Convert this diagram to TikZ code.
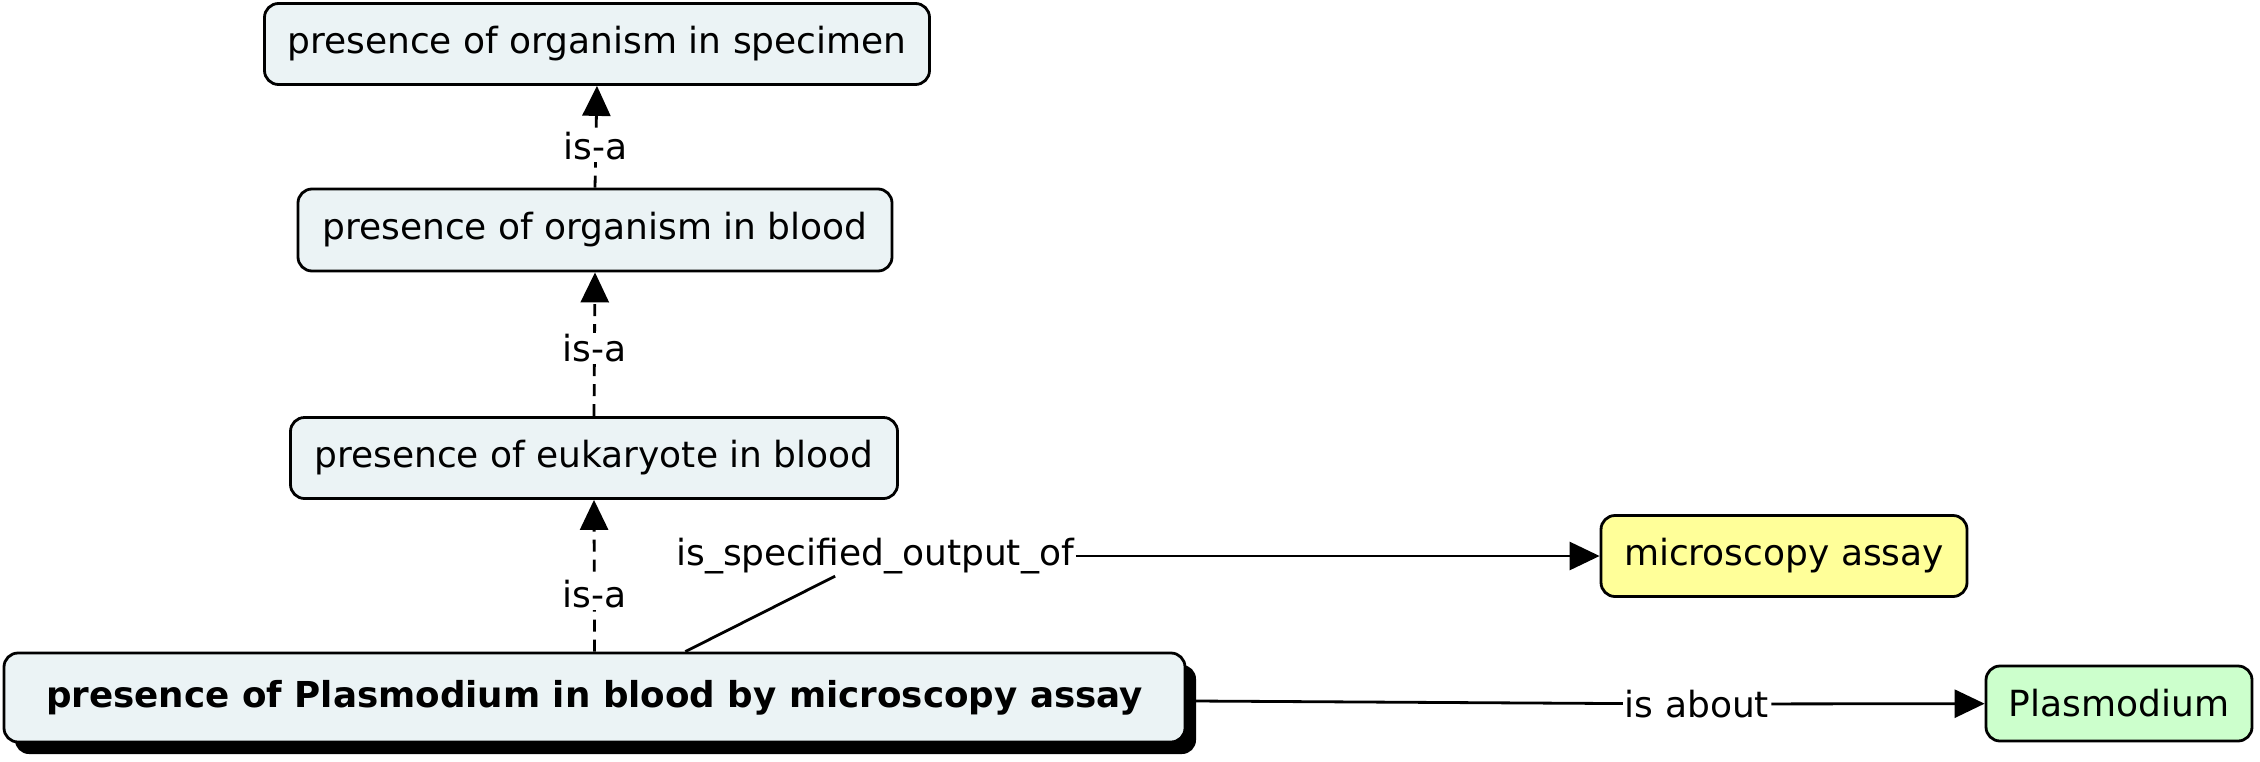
\documentclass[tikz,border=0pt]{standalone}
\usepackage{fontspec}
\setmainfont{DejaVu Sans}
\usetikzlibrary{arrows.meta,shadows}
\definecolor{nodefill}{RGB}{235,243,245}
\definecolor{yellowfill}{RGB}{255,255,153}
\definecolor{greenfill}{RGB}{204,255,204}
\tikzset{
  concept/.style={draw=black, line width=2.8pt, rounded corners=14pt, fill=nodefill,
    inner sep=0pt, align=center, font=\fontsize{36}{43}\selectfont},
  linklabel/.style={fill=white, inner sep=2pt, font=\fontsize{36}{43}\selectfont},
  isa/.style={line width=2.8pt, dash pattern=on 12pt off 8pt, -{Triangle[length=30pt,width=28pt]}},
  rel/.style={line width=2.8pt, -{Triangle[length=30pt,width=28pt]}},
  plain/.style={line width=2.8pt}
}
\begin{document}
\begin{tikzpicture}[x=1pt,y=-1pt]
\useasboundingbox (0,0) rectangle (2260,761);
\node[concept, minimum width=665pt, minimum height=81pt] (spec) at (597,44) {presence of organism in specimen};
\node[concept, minimum width=594pt, minimum height=82pt] (oblood) at (595,230) {presence of organism in blood};
\node[concept, minimum width=607pt, minimum height=81pt] (euk) at (594,458) {presence of eukaryote in blood};
\node[concept, minimum width=1181pt, minimum height=89pt,
  drop shadow={shadow xshift=11pt, shadow yshift=-12pt, fill=black, opacity=1},
  font=\fontsize{35.7}{43}\selectfont\bfseries] (main) at (594.5,697.5) {presence of Plasmodium in blood by microscopy assay};
\node[concept, fill=yellowfill, minimum width=366pt, minimum height=81pt] (micro) at (1784,556) {microscopy assay};
\node[concept, fill=greenfill, minimum width=266pt, minimum height=75pt] (plas) at (2119,703.5) {Plasmodium};

\node[linklabel] (spo) at (875,556) {is\_specified\_output\_of};
\node[linklabel] (about) at (1697,704) {is about};

\draw[isa] (oblood.north) -- node[linklabel, pos=0.41] (isa1) {is-a} (spec.south);
\draw[isa] (euk.north) -- node[linklabel, pos=0.47] (isa2) {is-a} (oblood.south);
\draw[isa] (main.north) -- node[linklabel, pos=0.377] (isa3) {is-a} (euk.south);
\draw[plain] (main) -- (spo);
\draw[rel] (spo) -- (micro);
\draw[plain] (main) -- (about);
\draw[rel] (about) -- (plas);
\end{tikzpicture}
\end{document}
